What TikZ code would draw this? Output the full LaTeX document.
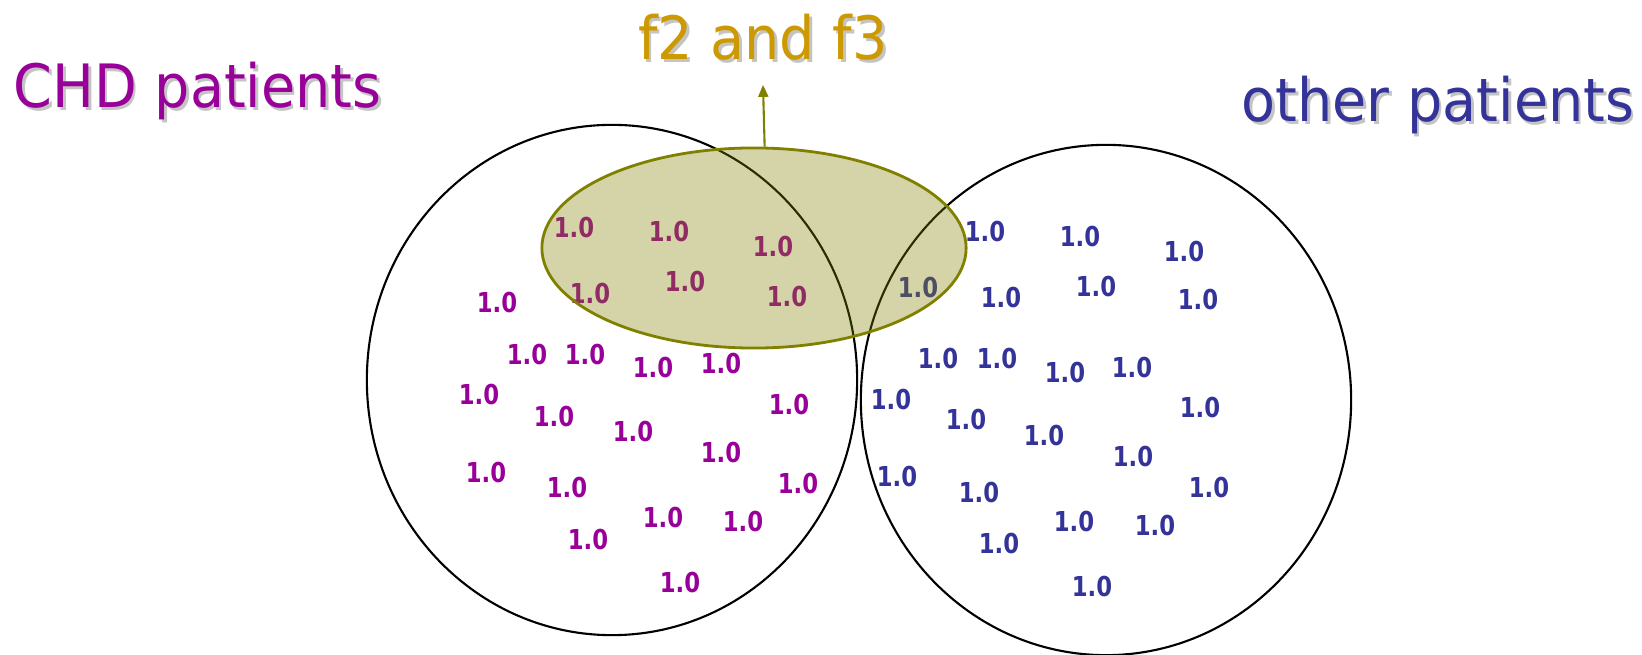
\documentclass[tikz,border=0pt]{standalone}
\usepackage{fontspec}
\setmainfont{DejaVu Sans}
\newfontfamily\titlefont[FakeStretch=0.93]{DejaVu Sans}
\newfontfamily\numfont[FakeStretch=0.83]{DejaVu Sans}
\usetikzlibrary{shapes.geometric,arrows.meta}
\definecolor{ChdClr}{HTML}{990099}
\definecolor{OtherClr}{HTML}{333399}
\definecolor{FeatClr}{HTML}{CC9900}
\definecolor{OliveClr}{HTML}{808000}
\definecolor{ShadowClr}{HTML}{C4C4C4}

\tikzset{
  title/.style={inner sep=0pt,font=\titlefont\fontsize{17}{20}\selectfont},
  num/.style={inner sep=0pt,font=\numfont\bfseries\fontsize{7.8}{9}\selectfont},
  group/.style={draw=black,line width=0.6pt,ellipse,inner sep=0pt,
    minimum width=4.9cm,minimum height=5.1cm},
}

% options, name, position, colour, text
\newcommand{\ShadowLabel}[5][]{%
  \node[title,#1,text=ShadowClr] at ([shift={(2.5,2.5)}]#3) {#5};
  \node[title,#1,text=#4] (#2) at (#3) {#5};
}

\begin{document}
\begin{tikzpicture}[x=0.01cm,y=-0.01cm]
\useasboundingbox (0,0) rectangle (1642,655);

\node[group] (chd) at (612,380) {};
\node[group] (other) at (1106,400) {};

% CHD patients
\foreach \x/\y [count=\i] in {497/303,527/355,585/355,653/368,721/364,479/395,554/417,
  633/432,789/405,721/453,486/473,567/488,798/484,663/518,743/522,588/540,680/583,
  574/228,669/232,773/247,590/294,685/282,787/297}
  \node[num,text=ChdClr] (c\i) at (\x,\y) {1.0};

% other patients
\foreach \x/\y [count=\i] in {918/288,985/232,1080/237,1184/252,1096/287,1001/298,1198/300,
  938/359,997/359,1065/373,1132/368,891/400,1200/408,966/420,1044/436,1133/457,
  897/477,1209/488,979/493,1074/522,1155/526,999/544,1092/587}
  \node[num,text=OtherClr] (o\i) at (\x,\y) {1.0};

% shaded overlap of f2 and f3
\node[ellipse,draw=OliveClr,line width=0.8pt,fill=OliveClr,fill opacity=0.34,
  minimum width=4.24cm,minimum height=2cm,inner sep=0pt] (overlap) at (754,248) {};

\ShadowLabel[anchor=base west]{chdlbl}{13,108}{ChdClr}{CHD patients}
\ShadowLabel[anchor=base west]{otherlbl}{1241,122}{OtherClr}{other patients}
\ShadowLabel[anchor=base,outer ysep=0.24cm]{feat}{763,60}{FeatClr}{f2 and f3}

\draw[OliveClr,line width=0.6pt,-{Triangle[length=0.12cm,width=0.1cm]}] (overlap.84) -- (feat.south);

\end{tikzpicture}
\end{document}
